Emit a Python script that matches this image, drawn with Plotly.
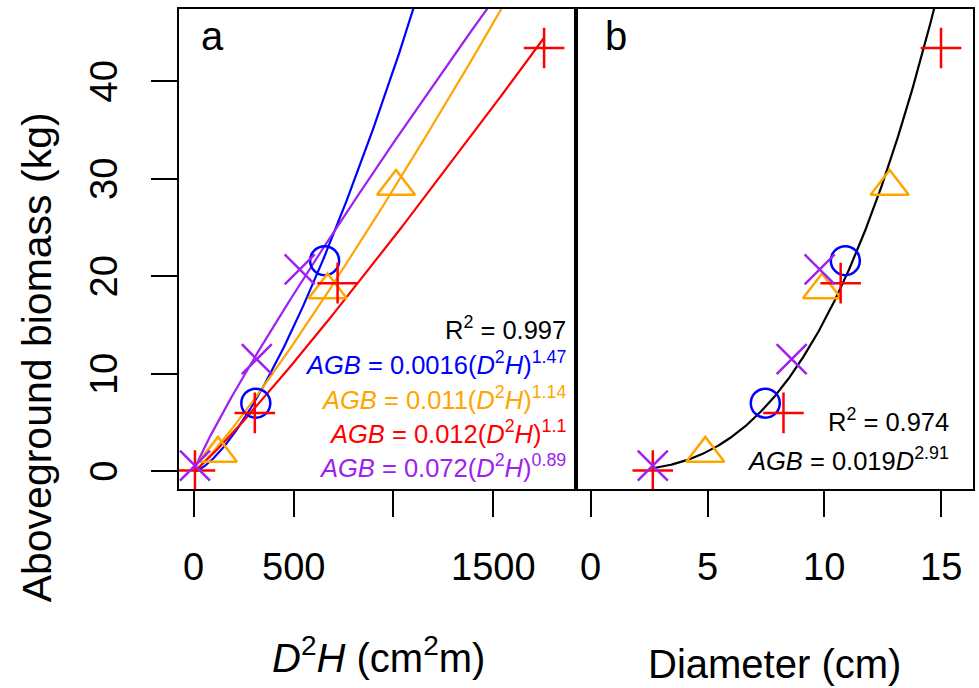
import numpy as np
import plotly.graph_objects as go

# ---------------- data ----------------
dh_blue = [310, 655]
d_blue = [7.47, 10.9]
agb_blue = [7.0, 21.6]

dh_orange = [120, 670, 1013]
d_orange = [4.9, 9.9, 12.8]
agb_orange = [1.85, 18.6, 29.2]

dh_red = [5, 305, 720, 1755]
d_red = [2.65, 8.25, 10.7, 15.0]
agb_red = [0.1, 6.0, 19.3, 43.4]

dh_purple = [5, 315, 530]
d_purple = [2.65, 8.6, 9.8]
agb_purple = [0.6, 11.5, 20.7]

# fitted power models AGB = a * x^b
coef_a = {"blue": 0.0016, "orange": 0.011, "red": 0.012, "purple": 0.072}
coef_b = {"blue": 1.47, "orange": 1.14, "red": 1.1, "purple": 0.89}
coef_all_a = 0.019
coef_all_b = 2.91
r2_a = "0.997"
r2_b = "0.974"

x_ticks_a = [0, 500, 1000, 1500]
x_ticktext_a = ["0", "500", "", "1500"]
x_ticks_b = [0, 5, 10, 15]
x_ticktext_b = ["0", "5", "10", "15"]
y_ticks = [0, 10, 20, 30, 40]
y_ticktext = ["0", "10", "20", "30", "40"]

# ---------------- styling ----------------
FONT = "Liberation Sans, Arial, Helvetica, sans-serif"
COL = {"blue": "#0000FF", "orange": "#FFA500", "red": "#FF0000", "purple": "#A020F0"}
SYM = {"blue": "circle-open", "orange": "triangle-up-open", "red": "cross-thin-open", "purple": "x-thin-open"}
SIZE = {"blue": 29, "orange": 33, "red": 29, "purple": 30}

series = {
    "blue": (dh_blue, d_blue, agb_blue),
    "orange": (dh_orange, d_orange, agb_orange),
    "red": (dh_red, d_red, agb_red),
    "purple": (dh_purple, d_purple, agb_purple),
}

fig = go.Figure()

all_dh = dh_blue + dh_orange + dh_red + dh_purple
all_d = d_blue + d_orange + d_red + d_purple
xa = np.linspace(0, max(all_dh), 400)
xb = np.linspace(min(all_d), max(all_d), 400)

for key in ["blue", "orange", "red", "purple"]:
    fig.add_trace(go.Scatter(
        x=xa, y=coef_a[key] * xa ** coef_b[key], mode="lines",
        line=dict(color=COL[key], width=2.2), xaxis="x", yaxis="y",
        showlegend=False, hoverinfo="skip"))

fig.add_trace(go.Scatter(
    x=xb, y=coef_all_a * xb ** coef_all_b, mode="lines",
    line=dict(color="black", width=2.2), xaxis="x2", yaxis="y2",
    showlegend=False, hoverinfo="skip"))

for key, (dh, d, agb) in series.items():
    mk = dict(symbol=SYM[key], size=SIZE[key], color=COL[key],
              line=dict(color=COL[key], width=2.5))
    fig.add_trace(go.Scatter(x=dh, y=agb, mode="markers", marker=mk,
                             xaxis="x", yaxis="y", showlegend=False))
    fig.add_trace(go.Scatter(x=d, y=agb, mode="markers", marker=mk,
                             xaxis="x2", yaxis="y2", showlegend=False))

axis_common = dict(showline=True, linecolor="black", linewidth=2, mirror=True,
                   showgrid=False, zeroline=False, ticks="outside", ticklen=26,
                   tickwidth=2, tickcolor="black", showticklabels=False)

fig.update_layout(
    width=979, height=688,
    margin=dict(l=179, r=4, t=9, b=199),
    paper_bgcolor="white", plot_bgcolor="white",
    showlegend=False,
    xaxis=dict(domain=[0, 0.5], range=[-75, 1915], tickvals=x_ticks_a, **axis_common),
    xaxis2=dict(domain=[0.5, 1], range=[-0.64, 16.37], tickvals=x_ticks_b,
                anchor="y2", **axis_common),
    yaxis=dict(range=[-1.8, 47.4], tickvals=y_ticks, anchor="x", **axis_common),
    yaxis2=dict(range=[-1.8, 47.4], anchor="x2", showline=True, linecolor="black",
                linewidth=2, mirror=True, showgrid=False, zeroline=False,
                showticklabels=False, ticks=""),
)

PLOT_L, PLOT_W, PLOT_B, PLOT_H = 179, 796.0, 489, 480.0

def px2paper(px, py):
    return (px - PLOT_L) / PLOT_W, (PLOT_B - py) / PLOT_H

ann = []

def add_text(px, py, text, size, color="black", xanchor="center", angle=0):
    x, y = px2paper(px, py)
    ann.append(dict(x=x, y=y, xref="paper", yref="paper", text=text, showarrow=False,
                    xanchor=xanchor, yanchor="middle", textangle=angle,
                    font=dict(family=FONT, size=size, color=color)))

TICKFONT = dict(family=FONT, size=38, color="black")
# x tick labels (placed at the axis values)
_, ylab = px2paper(0, 567)
for xref, vals, texts in [("x", x_ticks_a, x_ticktext_a), ("x2", x_ticks_b, x_ticktext_b)]:
    for v, t in zip(vals, texts):
        if t:
            ann.append(dict(x=v, y=ylab, xref=xref, yref="paper", text=t,
                            showarrow=False, xanchor="center", yanchor="middle",
                            font=TICKFONT))
# y tick labels (rotated, like R's default)
xlab, _ = px2paper(104, 0)
for v, t in zip(y_ticks, y_ticktext):
    ann.append(dict(x=xlab, y=v, xref="paper", yref="y", text=t, showarrow=False,
                    xanchor="center", yanchor="middle", textangle=-90, font=TICKFONT))

# panel letters
add_text(213, 36, "a", 40)
add_text(617, 36, "b", 40)

# panel a equations
EQ = 25.5
add_text(569, 328, "R<sup>2</sup> = " + r2_a, EQ, xanchor="right")
eq_rows = [("blue", 363), ("orange", 398), ("red", 432), ("purple", 466)]
for key, py in eq_rows:
    txt = ("<i>AGB</i> = %s(<i>D</i><sup>2</sup><i>H</i>)<sup>%s</sup>"
           % (coef_a[key], coef_b[key]))
    add_text(569, py, txt, EQ, color=COL[key], xanchor="right")

# panel b equations
add_text(953, 420, "R<sup>2</sup> = " + r2_b, EQ, xanchor="right")
add_text(953, 459, "<i>AGB</i> = %s<i>D</i><sup>%s</sup>" % (coef_all_a, coef_all_b),
         EQ, xanchor="right")

# axis titles
add_text(379, 655, "<i>D</i><sup>2</sup><i>H</i> (cm<sup>2</sup>m)", 40)
add_text(776, 664, "Diameter (cm)", 40)
add_text(37, 357, "Aboveground biomass (kg)", 41, angle=-90)

fig.update_layout(annotations=ann)

fig.write_html("out.html", config={"displayModeBar": False},
               post_script="document.body.style.margin='0';document.body.style.padding='0';")
